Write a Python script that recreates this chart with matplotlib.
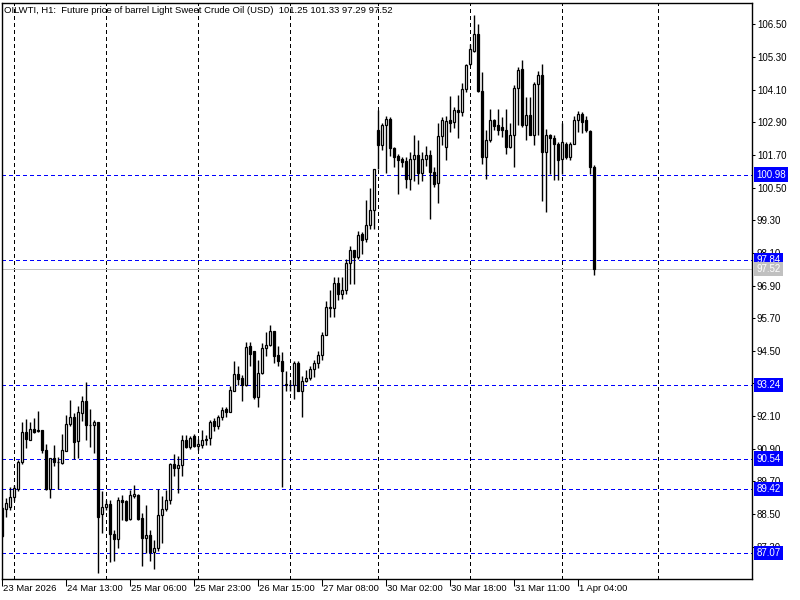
import numpy as np
import matplotlib
matplotlib.use("Agg")
import matplotlib.pyplot as plt

# OILWTI H1 candles (open / high / low / close)
opens = [88.72, 88.69, 88.76, 89.13, 89.43, 90.40, 91.51, 91.23, 91.62, 91.56,
         91.60, 90.87, 89.42, 90.56, 90.40, 90.38, 90.83, 91.81, 92.08, 91.17,
         92.21, 92.65, 91.78, 91.77, 91.89, 88.50, 88.76, 88.87, 87.78, 87.58,
         89.02, 88.96, 88.32, 89.15, 89.21, 88.36, 87.61, 87.73, 87.09, 87.25,
         88.47, 88.69, 89.03, 90.34, 90.18, 90.29, 91.23, 90.95, 91.38, 90.99,
         91.05, 91.23, 91.29, 91.92, 91.72, 92.06, 92.37, 92.26, 93.04, 93.66,
         93.51, 93.23, 94.67, 94.48, 92.82, 93.68, 94.60, 94.71, 95.24, 94.36,
         94.14, 93.25, 93.25, 93.24, 94.06, 93.04, 93.38, 93.49, 93.83, 94.05,
         94.36, 95.09, 96.09, 96.09, 97.01, 96.60, 96.75, 97.74, 98.20, 97.95,
         98.81, 98.60, 99.14, 99.67, 102.61, 102.08, 102.80, 103.04, 101.97, 101.67,
         101.57, 101.47, 100.83, 101.57, 101.69, 101.04, 101.57, 101.69, 101.08, 100.67,
         102.39, 102.01, 102.98, 102.92, 103.37, 103.30, 104.11, 105.06, 105.53, 106.16,
         104.06, 101.63, 102.24, 102.98, 102.82, 102.73, 102.63, 101.98, 102.45, 104.18,
         104.85, 102.79, 103.16, 102.45, 104.30, 104.63, 101.81, 102.43, 102.34, 102.12,
         101.57, 102.12, 101.61, 102.12, 102.98, 103.20, 102.98, 102.59, 101.25]
highs = [88.75, 89.09, 89.49, 89.58, 90.50, 91.90, 91.99, 91.87, 92.03, 92.29,
         91.60, 91.09, 90.56, 91.05, 90.60, 91.45, 92.15, 92.70, 92.21, 92.48,
         92.85, 93.36, 92.36, 91.97, 91.89, 89.34, 89.03, 89.03, 87.93, 89.13,
         89.19, 89.03, 89.40, 89.58, 89.24, 88.54, 88.83, 87.90, 87.56, 89.42,
         89.15, 89.40, 90.38, 90.71, 90.62, 91.42, 91.42, 91.38, 91.44, 91.25,
         91.60, 91.41, 91.97, 92.03, 92.15, 92.43, 92.43, 93.19, 94.14, 93.96,
         93.62, 94.83, 94.83, 94.48, 94.17, 94.77, 95.19, 95.46, 95.24, 94.67,
         94.45, 93.74, 93.44, 94.14, 94.11, 93.58, 93.80, 93.93, 94.17, 94.48,
         95.21, 96.32, 96.72, 97.22, 97.22, 97.22, 97.89, 98.34, 98.20, 98.89,
         98.87, 100.03, 100.50, 101.20, 103.35, 102.88, 103.13, 103.08, 101.99, 101.73,
         101.63, 101.63, 101.81, 102.43, 102.24, 101.81, 102.02, 101.87, 101.26, 102.86,
         103.10, 103.12, 103.86, 103.47, 103.90, 104.35, 105.06, 105.80, 106.84, 106.51,
         104.76, 102.61, 103.41, 103.04, 103.41, 103.08, 103.41, 102.86, 104.26, 104.94,
         105.18, 103.84, 103.84, 104.39, 104.78, 105.05, 102.64, 102.49, 102.45, 102.18,
         102.88, 102.18, 102.18, 103.13, 103.33, 103.29, 103.13, 102.61, 101.33]
lows = [87.65, 88.38, 88.66, 88.97, 89.34, 90.35, 90.93, 91.21, 91.48, 91.52,
        90.74, 89.37, 89.09, 90.25, 89.42, 90.35, 90.80, 91.75, 90.52, 90.56,
        91.91, 91.21, 90.96, 90.74, 86.34, 87.80, 88.66, 86.73, 86.76, 87.25,
        88.29, 88.23, 88.29, 89.09, 88.29, 86.58, 87.07, 86.76, 86.46, 87.13,
        87.44, 88.60, 88.85, 89.89, 89.27, 89.89, 90.93, 90.90, 90.95, 90.85,
        90.92, 91.05, 91.05, 91.57, 91.62, 91.97, 92.06, 92.25, 93.01, 93.25,
        92.64, 93.22, 93.95, 92.73, 92.42, 93.66, 94.32, 94.66, 94.05, 93.95,
        89.51, 93.01, 93.01, 92.73, 93.04, 92.05, 93.34, 93.44, 93.52, 93.87,
        94.17, 95.08, 95.74, 95.74, 96.36, 96.41, 96.60, 96.97, 96.97, 97.89,
        98.07, 98.50, 98.99, 98.99, 101.20, 101.90, 101.04, 101.67, 101.26, 100.28,
        101.26, 100.47, 100.40, 100.75, 100.65, 100.75, 101.29, 99.33, 100.53, 99.94,
        102.06, 101.51, 102.55, 102.71, 102.33, 103.12, 104.02, 105.00, 105.49, 104.02,
        101.38, 100.83, 102.18, 102.61, 102.43, 102.37, 101.75, 101.94, 101.26, 102.79,
        102.73, 102.24, 102.43, 102.06, 102.43, 100.02, 99.61, 101.02, 100.77, 100.77,
        101.02, 101.57, 101.53, 102.10, 102.55, 102.52, 102.55, 101.02, 97.29]
closes = [87.68, 88.91, 89.13, 89.46, 90.43, 91.51, 91.26, 91.62, 91.50, 91.58,
          90.84, 89.42, 90.56, 90.40, 90.42, 90.85, 91.81, 92.08, 91.15, 92.26,
          92.65, 91.76, 91.76, 91.89, 88.39, 88.77, 88.87, 87.77, 87.58, 89.03,
          88.93, 88.29, 89.20, 89.25, 88.32, 87.62, 87.73, 87.09, 87.25, 88.48,
          88.69, 89.03, 90.34, 90.18, 90.30, 91.23, 90.95, 91.29, 90.99, 91.09,
          91.23, 91.27, 91.89, 91.72, 92.06, 92.33, 92.26, 93.07, 93.66, 93.47,
          93.23, 94.64, 94.39, 92.82, 93.68, 94.60, 94.71, 95.24, 94.30, 94.11,
          93.74, 93.26, 93.24, 94.06, 93.04, 93.40, 93.50, 93.83, 94.06, 94.36,
          95.09, 96.13, 96.12, 97.01, 96.60, 96.75, 97.74, 98.20, 97.95, 98.77,
          98.56, 99.14, 99.67, 101.18, 102.08, 102.80, 103.02, 101.97, 101.63, 101.50,
          101.45, 100.83, 101.57, 101.69, 101.04, 101.57, 101.69, 101.08, 100.65, 102.39,
          102.98, 102.94, 102.88, 103.35, 103.30, 104.12, 105.00, 105.61, 106.16, 104.06,
          101.63, 102.24, 102.98, 102.76, 102.63, 102.63, 101.98, 102.45, 104.18, 104.82,
          102.79, 103.16, 102.45, 104.30, 104.63, 101.81, 102.43, 102.34, 102.10, 101.51,
          102.18, 101.61, 102.12, 102.98, 103.20, 102.92, 102.61, 101.26, 97.52]

time_labels = ["23 Mar 2026", "24 Mar 13:00", "25 Mar 06:00", "25 Mar 23:00",
               "26 Mar 15:00", "27 Mar 08:00", "30 Mar 02:00", "30 Mar 18:00",
               "31 Mar 11:00", "1 Apr 04:00"]
label_bars = [0, 16, 32, 48, 64, 80, 96, 112, 128, 144]
day_bars = [3, 26, 49, 72, 94, 117, 140, 164]  # vertical grid (day separators)
price_ticks = [87.30, 88.50, 89.70, 90.90, 92.10, 93.30, 94.50, 95.70,
               96.90, 98.10, 99.30, 100.50, 101.70, 102.90, 104.10, 105.30, 106.50]
levels = [100.98, 97.84, 93.24, 90.54, 89.42, 87.07]
bid = 97.52
title = "OILWTI, H1:  Future price of barrel Light Sweet Crude Oil (USD)  101.25 101.33 97.29 97.52"

plt.rcParams['font.family'] = ['Liberation Sans', 'DejaVu Sans']
fs = 7

fig = plt.figure(figsize=(8, 6), dpi=100)
ax = fig.add_axes([2 / 800, 1 - 579 / 600, 750 / 800, 576 / 600])
ax.set_xlim(0, 187.5)
ax.set_ylim(86.11, 107.29)

o = np.array(opens)
h = np.array(highs)
l = np.array(lows)
c = np.array(closes)
x = np.arange(len(o))

# grid + levels (1 px lines)
for b in day_bars:
    ax.axvline(b, color='black', lw=0.72, ls=(0, (4, 3)), zorder=1, antialiased=False)
for lv in levels:
    ax.axhline(lv, color='#0000FF', lw=0.72, ls=(0, (4, 3)), zorder=1, antialiased=False)
ax.axhline(bid, color='#C0C0C0', lw=0.72, zorder=1, antialiased=False)

# candles
ax.vlines(x, l, h, color='black', lw=1.0, zorder=2)
up = c >= o
body = np.maximum(np.abs(c - o), 0.012)
ax.bar(x[up], body[up], bottom=np.minimum(o, c)[up], width=0.55,
       color='white', edgecolor='black', linewidth=0.9, zorder=3)
ax.bar(x[~up], body[~up], bottom=np.minimum(o, c)[~up], width=0.55,
       color='black', edgecolor='black', linewidth=0.9, zorder=3)

for s in ax.spines.values():
    s.set_linewidth(1.0)
    s.set_color('black')

# price axis on the right
ax.yaxis.tick_right()
ax.set_yticks(price_ticks)
ax.set_yticklabels(['%.2f' % p for p in price_ticks])
ax.tick_params(axis='y', length=2.5, width=0.75, pad=1, labelsize=fs)

# time axis
ax.set_xticks(label_bars)
ax.set_xticklabels([])
ax.tick_params(axis='x', length=5, width=0.75, direction='out')
for b, t in zip(label_bars, time_labels):
    ax.annotate(t, xy=(b, 0), xycoords=('data', 'axes fraction'),
                xytext=(0.6, -6.5), textcoords='offset points',
                ha='left', va='center', fontsize=6.8, annotation_clip=False)

# level boxes
for lv in levels:
    ax.annotate('%.2f' % lv, xy=(1, lv), xycoords=('axes fraction', 'data'),
                xytext=(3.2, 0), textcoords='offset points', ha='left', va='center',
                fontsize=fs, color='white', annotation_clip=False, zorder=10,
                bbox=dict(boxstyle='square,pad=0.22', fc='#0000FF', ec='none'))
ax.annotate('%.2f' % bid, xy=(1, bid), xycoords=('axes fraction', 'data'),
            xytext=(3.2, 0), textcoords='offset points', ha='left', va='center',
            fontsize=fs, color='white', annotation_clip=False, zorder=10,
            bbox=dict(boxstyle='square,pad=0.22', fc='#C0C0C0', ec='none'))

ax.annotate(title, xy=(0, 1), xycoords='axes fraction', xytext=(1.5, -5.5),
            textcoords='offset points', ha='left', va='center', fontsize=6.8)

fig.savefig('out.png', dpi=100)
